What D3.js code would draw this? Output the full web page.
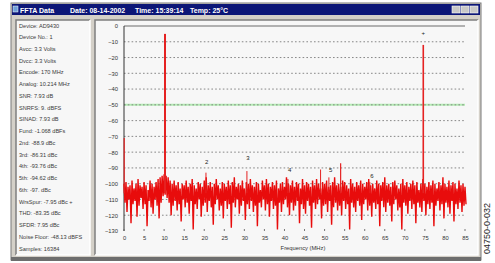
<!DOCTYPE html>
<meta charset="utf-8">
<script src="https://d3js.org/d3.v7.min.js"></script>
<style>
body { margin: 0; background: #fff; }
svg { display: block; font-family: "Liberation Sans", Arial, sans-serif; }
</style>
<div id="my_dataviz"></div>
<script>
// values
var titleParts = ["FFTA Data", "Date: 08-14-2002", "Time: 15:39:14", "Temp: 25\u00B0C"];
var titleX = [20, 70, 135, 190];

var infoLines = ["Device: AD9430", "Device No.: 1", "Avcc: 3.3 Volts", "Dvcc: 3.3 Volts",
  "Encode: 170 MHz", "Analog: 10.214 MHz", "SNR: 7.93 dB", "SNRFS: 9. dBFS", "SINAD: 7.93 dB",
  "Fund: -1.068 dBFs", "2nd: -88.9 dBc", "3rd: -86.31 dBc", "4th: -93.76 dBc", "5th: -94.62 dBc",
  "6th: -97. dBc", "WrsSpur: -7.95 dBc +", "THD: -83.35 dBc", "SFDR: 7.95 dBc",
  "Noise Floor: -48.13 dBFS", "Samples: 16384"];

var yTicks = [0, -10, -20, -30, -40, -50, -60, -70, -80, -90, -100, -110, -120, -130];
var xTicks = [0, 5, 10, 15, 20, 25, 30, 35, 40, 45, 50, 55, 60, 65, 70, 75, 80, 85];
var gridLevels = [-10, -20, -30, -40, -50, -60, -70, -80, -90, -100, -110, -120];
var limitLevel = -50;

// noise floor, every 0.5 MHz: upper and lower swing of the trace
var noiseTop = [-100,-99,-102,-101,-98,-103,-100,-97,-101,-102,
  -99,-101,-104,-98,-100,-102,-99,-97,-96,-95,
  -94,-95,-96,-98,-100,-98,-101,-99,-103,-100,
  -101,-98,-102,-100,-97,-101,-103,-99,-100,-102,
  -98,-96,-101,-99,-102,-100,-97,-101,-103,-99,
  -100,-102,-98,-101,-99,-96,-102,-100,-101,-98,
  -103,-99,-100,-97,-101,-102,-99,-100,-104,-98,
  -101,-97,-100,-102,-99,-101,-98,-103,-100,-99,
  -102,-96,-100,-101,-98,-102,-99,-100,-103,-97,
  -101,-99,-100,-102,-98,-101,-97,-100,-103,-99,
  -100,-98,-102,-101,-99,-96,-101,-100,-102,-98,
  -99,-101,-103,-97,-100,-102,-99,-101,-98,-100,
  -102,-99,-97,-101,-100,-103,-98,-100,-101,-99,
  -96,-101,-100,-102,-99,-98,-101,-103,-100,-97,
  -101,-99,-102,-100,-98,-101,-99,-104,-100,-97,
  -100,-102,-99,-101,-98,-100,-103,-99,-101,-96,
  -100,-102,-98,-101,-99,-100,-103,-98,-101,-100,
  -102];
var noiseBot = [-112,-118,-110,-125,-113,-111,-121,-114,-109,-116,
  -113,-127,-111,-115,-119,-110,-114,-122,-112,-108,
  -107,-109,-112,-120,-114,-111,-117,-113,-124,-110,
  -115,-112,-119,-111,-129,-113,-116,-110,-121,-114,
  -112,-118,-111,-115,-126,-113,-110,-117,-114,-122,
  -111,-116,-113,-128,-112,-115,-110,-119,-114,-111,
  -123,-113,-116,-111,-118,-114,-127,-112,-115,-110,
  -117,-113,-121,-111,-116,-114,-129,-112,-118,-113,
  -110,-115,-120,-112,-117,-114,-111,-125,-113,-116,
  -119,-111,-114,-128,-112,-116,-113,-110,-122,-114,
  -113,-118,-111,-126,-115,-112,-117,-114,-120,-111,
  -116,-113,-129,-112,-115,-118,-111,-114,-123,-113,
  -110,-117,-114,-121,-112,-116,-113,-127,-111,-115,
  -118,-112,-114,-124,-113,-110,-117,-115,-129,-112,
  -114,-119,-111,-116,-113,-125,-112,-115,-118,-111,
  -120,-113,-116,-112,-127,-114,-111,-117,-113,-122,
  -112,-115,-119,-111,-124,-113,-116,-112,-118,-114,
  -113];

// tones and spurs rising out of the noise
var spurFreq  = [0.05, 10.214, 20.43, 30.64, 40.86, 49.0, 51.07, 54.0, 61.28, 74.6];
var spurLevel = [-71, -5, -93, -92, -97, -91, -96, -87, -99, -12];
var spurWidth = [1.2, 2, 1, 1, 1, 1, 1, 1.2, 1, 1.6];

var harmLabel = ["2", "3", "4", "5", "6", "+"];
var harmFreq  = [20.6, 30.9, 41.3, 51.5, 61.8, 74.6];
var harmLevel = [-87.5, -85, -92.5, -92.5, -96.5, -5.5];

var W = 495, H = 263;
var svg = d3.select("#my_dataviz").append("svg")
  .attr("width", W).attr("height", H);

// window chrome
svg.append("rect").attr("x", 11).attr("y", 3).attr("width", 470).attr("height", 257)
  .attr("fill", "#d4d0c8").attr("stroke", "#7a7a7a").attr("stroke-width", 1);
svg.append("rect").attr("x", 11).attr("y", 257).attr("width", 470).attr("height", 4)
  .attr("fill", "#6e6e6e");
svg.append("rect").attr("x", 12).attr("y", 4).attr("width", 468).attr("height", 11)
  .attr("fill", "#0c1677");
svg.append("rect").attr("x", 13).attr("y", 6).attr("width", 5).attr("height", 6)
  .attr("fill", "#6fa0d8").attr("stroke", "#fff").attr("stroke-width", 0.5);
svg.selectAll(".ttl").data(titleParts).enter().append("text")
  .attr("x", function(d, i) { return titleX[i]; }).attr("y", 12.5)
  .attr("fill", "#fff").attr("font-size", 7).attr("font-weight", "bold")
  .text(function(d) { return d; });
[452, 461, 470].forEach(function(bx) {
  svg.append("rect").attr("x", bx).attr("y", 6).attr("width", 8).attr("height", 7)
    .attr("fill", "#c8c8c8").attr("stroke", "#fff").attr("stroke-width", 0.6);
});

// panels
function panel(x, y, w, h) {
  svg.append("rect").attr("x", x).attr("y", y).attr("width", w).attr("height", h)
    .attr("fill", "#f7f7f7");
  svg.append("path").attr("d", "M" + x + "," + (y + h) + "V" + y + "H" + (x + w))
    .attr("fill", "none").attr("stroke", "#7f7f7f").attr("stroke-width", 1.5);
  svg.append("path").attr("d", "M" + (x + w) + "," + y + "V" + (y + h) + "H" + x)
    .attr("fill", "none").attr("stroke", "#ffffff").attr("stroke-width", 1.5);
}
panel(16, 20, 74, 235);
panel(95, 20, 383, 235);

svg.selectAll(".info").data(infoLines).enter().append("text")
  .attr("x", 19).attr("y", function(d, i) { return 27.5 + i * 11.74; })
  .attr("font-size", 5.6).attr("fill", "#3a3a3a")
  .text(function(d) { return d; });

// chart
var x = d3.scaleLinear().domain([0, 85]).range([124, 465]);
var y = d3.scaleLinear().domain([0, -130]).range([26, 231]);

svg.append("line").attr("x1", x(0)).attr("x2", x(85))
  .attr("y1", y(limitLevel)).attr("y2", y(limitLevel))
  .attr("stroke", "#b4ecb4").attr("stroke-width", 2);

svg.selectAll(".grid").data(gridLevels).enter().append("line")
  .attr("x1", x(0)).attr("x2", x(85))
  .attr("y1", function(d) { return y(d); }).attr("y2", function(d) { return y(d); })
  .attr("stroke", "#7a7a7a").attr("stroke-width", 0.9).attr("stroke-dasharray", "1.6,2.2");

svg.append("line").attr("x1", x(0)).attr("x2", x(85)).attr("y1", y(0)).attr("y2", y(0))
  .attr("stroke", "#9a9a9a").attr("stroke-width", 1.6);
svg.append("line").attr("x1", x(0)).attr("x2", x(0)).attr("y1", y(0)).attr("y2", y(-130))
  .attr("stroke", "#333").attr("stroke-width", 1);

var yAxis = svg.append("g").attr("transform", "translate(" + x(0) + ",0)")
  .call(d3.axisLeft(y).tickValues(yTicks).tickSize(0).tickPadding(6));
yAxis.select(".domain").remove();
yAxis.selectAll("text").attr("font-size", 5.8).attr("fill", "#333")
  .attr("font-family", "Liberation Sans, Arial, sans-serif");

var xAxis = svg.append("g").attr("transform", "translate(0," + y(-130) + ")")
  .call(d3.axisBottom(x).tickValues(xTicks).tickSize(0).tickPadding(5));
xAxis.select(".domain").remove();
xAxis.selectAll("text").attr("font-size", 5.8).attr("fill", "#333")
  .attr("font-family", "Liberation Sans, Arial, sans-serif");

svg.selectAll(".xtick").data(xTicks).enter().append("line")
  .attr("x1", function(d) { return x(d); }).attr("x2", function(d) { return x(d); })
  .attr("y1", y(-130) - 2).attr("y2", y(-130))
  .attr("stroke", "#555").attr("stroke-width", 0.8);

svg.append("text").attr("x", 303).attr("y", 250).attr("text-anchor", "middle")
  .attr("font-size", 5.8).attr("fill", "#333").text("Frequency (MHz)");

// noise trace
var trace = [];
noiseTop.forEach(function(v, i) {
  trace.push([i * 0.5, v]);
  trace.push([i * 0.5 + 0.25, noiseBot[i]]);
});
var line = d3.line().x(function(d) { return x(d[0]); }).y(function(d) { return y(d[1]); });
svg.append("path").datum(trace).attr("d", line)
  .attr("fill", "none").attr("stroke", "#e80c0c").attr("stroke-width", 1.4)
  .attr("stroke-linejoin", "bevel");

// spurs
svg.selectAll(".spur").data(spurFreq).enter().append("line")
  .attr("x1", function(d) { return x(d); }).attr("x2", function(d) { return x(d); })
  .attr("y1", y(-106)).attr("y2", function(d, i) { return y(spurLevel[i]); })
  .attr("stroke", "#e52222").attr("stroke-width", function(d, i) { return spurWidth[i]; });

svg.selectAll(".harm").data(harmLabel).enter().append("text")
  .attr("x", function(d, i) { return x(harmFreq[i]); })
  .attr("y", function(d, i) { return y(harmLevel[i]); })
  .attr("text-anchor", "middle").attr("font-size", 6).attr("fill", "#222")
  .text(function(d) { return d; });

// figure code on the right
svg.append("text").attr("transform", "translate(490,254) rotate(-90)")
  .attr("font-size", 9).attr("fill", "#222").text("04750-0-032");
</script>
